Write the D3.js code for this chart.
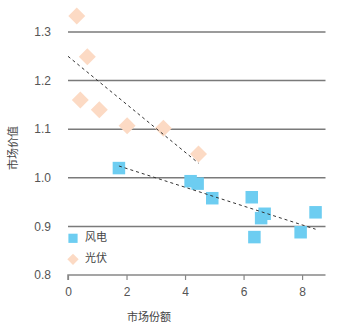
<!DOCTYPE html>
<html>
<head>
<meta charset="utf-8">
<script src="https://cdn.jsdelivr.net/npm/d3@7"></script>
<style>
  html, body { margin: 0; padding: 0; background: #fff; }
  svg { display: block; }
  text { font-family: "Liberation Sans", Arial, "Noto Sans CJK SC", sans-serif; }
</style>
</head>
<body>
<svg id="chart" width="350" height="329"></svg>
<script>
// Wind power (风电): market share vs. market value
const windShare = [1.74, 4.19, 4.43, 4.93, 6.28, 6.72, 6.60, 6.37, 7.95, 8.46];
const windValue = [1.02, 0.993, 0.988, 0.958, 0.96, 0.926, 0.917, 0.878, 0.888, 0.929];

// Solar PV (光伏)
const solarShare = [0.30, 0.66, 0.42, 1.07, 2.02, 3.26, 4.46];
const solarValue = [1.333, 1.249, 1.16, 1.14, 1.107, 1.102, 1.049];

// Linear trend lines: [x start, x end], intercept, slope
const windTrendX = [1.74, 8.46];
const windTrendCoef = [1.058, -0.01936];
const solarTrendX = [0, 4.46];
const solarTrendCoef = [1.25, -0.0493];

const xTicks = [0, 2, 4, 6, 8];
const yTicks = [0.8, 0.9, 1.0, 1.1, 1.2, 1.3];
const seriesNames = ["风电", "光伏"];
const xTitle = "市场份额";
const yTitle = "市场价值";

const svg = d3.select("#chart");
const x = d3.scaleLinear().domain([0, 8.8]).range([68, 325.5]);
const y = d3.scaleLinear().domain([0.8, 1.35]).range([275, 7.7]);

const windColor = "#6dcdf1";
const solarColor = "#fcdac4";

// horizontal gridlines
svg.append("g")
  .selectAll("line")
  .data(yTicks.filter(d => d > 0.8))
  .join("line")
  .attr("x1", x.range()[0]).attr("x2", x.range()[1])
  .attr("y1", d => y(d)).attr("y2", d => y(d))
  .attr("stroke", "#7a7a7a").attr("stroke-width", 1.5);

// y tick labels
svg.append("g")
  .selectAll("text")
  .data(yTicks)
  .join("text")
  .attr("x", 51).attr("y", d => y(d))
  .attr("dy", "0.35em")
  .attr("text-anchor", "end")
  .attr("font-size", 12)
  .attr("fill", "#555")
  .text(d => d.toFixed(1));

// x axis
const xAxis = svg.append("g")
  .attr("transform", `translate(0,${y(0.8)})`)
  .call(d3.axisBottom(x).tickValues(xTicks).tickSize(5).tickPadding(7).tickFormat(d3.format("d")));
xAxis.select(".domain").attr("stroke", "#888").attr("stroke-width", 1.5)
  .attr("d", `M${x.range()[0]},5V0H${x.range()[1]}`);
xAxis.selectAll(".tick line").attr("stroke", "#888").attr("stroke-width", 1.2);
xAxis.selectAll(".tick text").attr("font-size", 12).attr("fill", "#555")
  .attr("font-family", "Liberation Sans, Arial, sans-serif");

// axis titles
svg.append("text")
  .attr("x", 149).attr("y", 317)
  .attr("dy", "0.35em")
  .attr("text-anchor", "middle")
  .attr("font-size", 11)
  .attr("fill", "#444")
  .text(xTitle);

svg.append("text")
  .attr("transform", "translate(13,148) rotate(-90)")
  .attr("dy", "0.35em")
  .attr("text-anchor", "middle")
  .attr("font-size", 11)
  .attr("fill", "#444")
  .text(yTitle);

// solar diamonds
const dSize = 12;
svg.append("g")
  .selectAll("rect")
  .data(d3.range(solarShare.length))
  .join("rect")
  .attr("x", -dSize / 2).attr("y", -dSize / 2)
  .attr("width", dSize).attr("height", dSize)
  .attr("transform", i => `translate(${x(solarShare[i])},${y(solarValue[i])}) rotate(45)`)
  .attr("fill", solarColor);

// wind squares
const sSize = 12.5;
svg.append("g")
  .selectAll("rect")
  .data(d3.range(windShare.length))
  .join("rect")
  .attr("x", i => x(windShare[i]) - sSize / 2)
  .attr("y", i => y(windValue[i]) - sSize / 2)
  .attr("width", sSize).attr("height", sSize)
  .attr("fill", windColor);

// trend lines
const trend = (xs, c) => xs.map(v => [x(v), y(c[0] + c[1] * v)]);
const line = d3.line();
[[windTrendX, windTrendCoef], [solarTrendX, solarTrendCoef]].forEach(([xs, c]) => {
  svg.append("path")
    .attr("d", line(trend(xs, c)))
    .attr("fill", "none")
    .attr("stroke", "#333")
    .attr("stroke-width", 1)
    .attr("stroke-dasharray", "3,3");
});

// legend
const legend = svg.append("g");
legend.append("rect")
  .attr("x", 73 - 4.6).attr("y", 238.3 - 4.6)
  .attr("width", 9.2).attr("height", 9.2)
  .attr("fill", windColor);
legend.append("rect")
  .attr("x", -4).attr("y", -4).attr("width", 8).attr("height", 8)
  .attr("transform", "translate(73,259.3) rotate(45)")
  .attr("fill", solarColor);
legend.selectAll("text")
  .data(seriesNames)
  .join("text")
  .attr("x", 85)
  .attr("y", (d, i) => [237.5, 258.5][i])
  .attr("dy", "0.35em")
  .attr("font-size", 11)
  .attr("fill", "#444")
  .text(d => d);
</script>
</body>
</html>
